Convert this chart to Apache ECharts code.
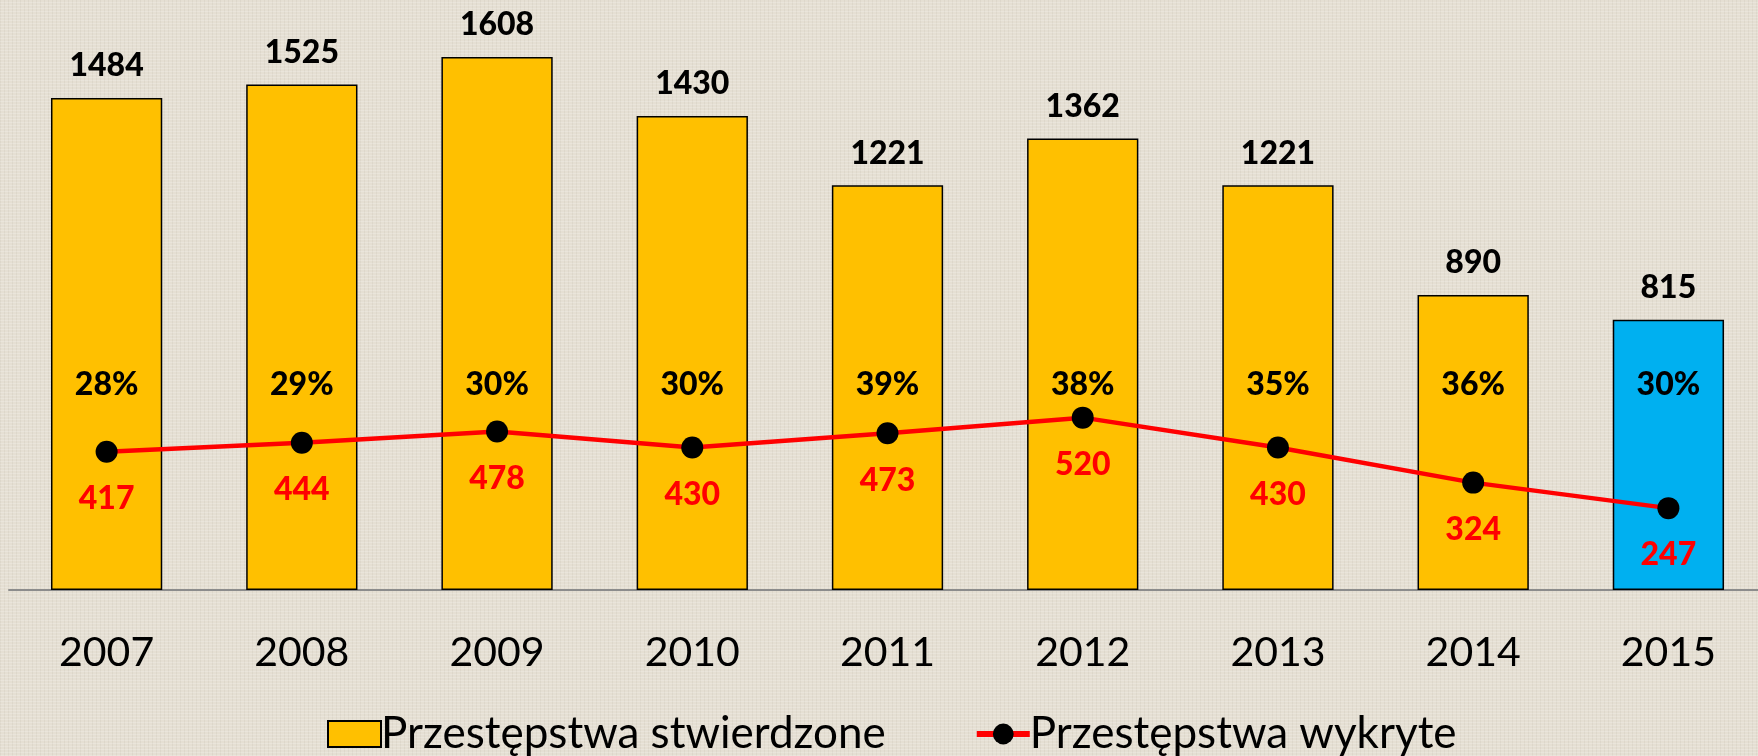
<!DOCTYPE html>
<html>
<head>
<meta charset="utf-8">
<script src="https://cdn.jsdelivr.net/npm/echarts@6/dist/echarts.min.js"></script>
<style>
  html, body { margin: 0; padding: 0; }
  body {
    width: 1758px; height: 756px; overflow: hidden;
    background-color: #e5dfd3;
    background-image:
      repeating-linear-gradient(0deg, rgba(255,255,255,0.18) 0 1px, transparent 1px 3px),
      repeating-linear-gradient(90deg, rgba(120,110,90,0.07) 0 1px, transparent 1px 4px);
  }
  /* szerszy niz okno, ostatnia kategoria wychodzi poza krawedz jak w oryginale */
  #chart { width: 1766px; height: 756px; }
</style>
</head>
<body>
<div id="chart"></div>
<script>
// lata
var years = ['2007', '2008', '2009', '2010', '2011', '2012', '2013', '2014', '2015'];
// przestepstwa stwierdzone
var stwierdzone = [1484, 1525, 1608, 1430, 1221, 1362, 1221, 890, 815];
// przestepstwa wykryte
var wykryte = [417, 444, 478, 430, 473, 520, 430, 324, 247];
// wskaznik wykrywalnosci
var procenty = ['28%', '29%', '30%', '30%', '39%', '38%', '35%', '36%', '30%'];

var FONT = 'Lato, "Open Sans", sans-serif';

var chart = echarts.init(document.getElementById('chart'));

var option = {
  backgroundColor: 'transparent',
  animation: false,
  grid: { left: 9, top: 0, right: 0, bottom: 166, containLabel: false },
  legend: {
    left: 327,
    top: 712,
    padding: 0,
    itemWidth: 53,
    itemHeight: 26,
    itemGap: 88,
    textStyle: { fontFamily: FONT, fontSize: 44, color: '#000', padding: [0, 0, 0, -5] },
    data: [
      { name: 'Przestępstwa stwierdzone', icon: 'rect' },
      { name: 'Przestępstwa wykryte', lineStyle: { color: '#ff0000', width: 6 } }
    ]
  },
  xAxis: {
    type: 'category',
    data: years,
    axisLine: { lineStyle: { color: '#8c8c8c', width: 2 } },
    axisTick: { show: false },
    axisLabel: { fontFamily: FONT, fontSize: 41, color: '#000', margin: 42 }
  },
  yAxis: {
    type: 'value',
    min: 0,
    max: 1780,
    show: false,
    splitLine: { show: false }
  },
  series: [
    {
      name: 'Przestępstwa stwierdzone',
      type: 'bar',
      barWidth: '57%',
      data: stwierdzone.map(function (v, i) {
        return i === stwierdzone.length - 1
          ? { value: v, itemStyle: { color: '#00b0f0' } }
          : v;
      }),
      itemStyle: { color: '#ffc000', borderColor: '#000', borderWidth: 1.5 },
      label: {
        show: true,
        position: 'top',
        distance: 16,
        fontFamily: FONT,
        fontWeight: 900,
        fontSize: 32,
        color: '#000'
      }
    },
    {
      // nakladka z procentami
      name: 'procent',
      type: 'bar',
      barWidth: '57%',
      barGap: '-100%',
      silent: true,
      data: stwierdzone,
      itemStyle: { color: 'rgba(0,0,0,0)' },
      label: {
        show: true,
        position: 'insideBottom',
        distance: 189,
        fontFamily: FONT,
        fontWeight: 900,
        fontSize: 32,
        color: '#000',
        formatter: function (p) { return procenty[p.dataIndex]; }
      }
    },
    {
      name: 'Przestępstwa wykryte',
      type: 'line',
      data: wykryte,
      symbol: 'circle',
      symbolSize: 22,
      z: 5,
      lineStyle: { color: '#ff0000', width: 4.5 },
      itemStyle: { color: '#000' },
      label: {
        show: true,
        position: 'bottom',
        distance: 20,
        fontFamily: FONT,
        fontWeight: 900,
        fontSize: 32,
        color: '#ff0000'
      }
    }
  ]
};

chart.setOption(option);
</script>
</body>
</html>
